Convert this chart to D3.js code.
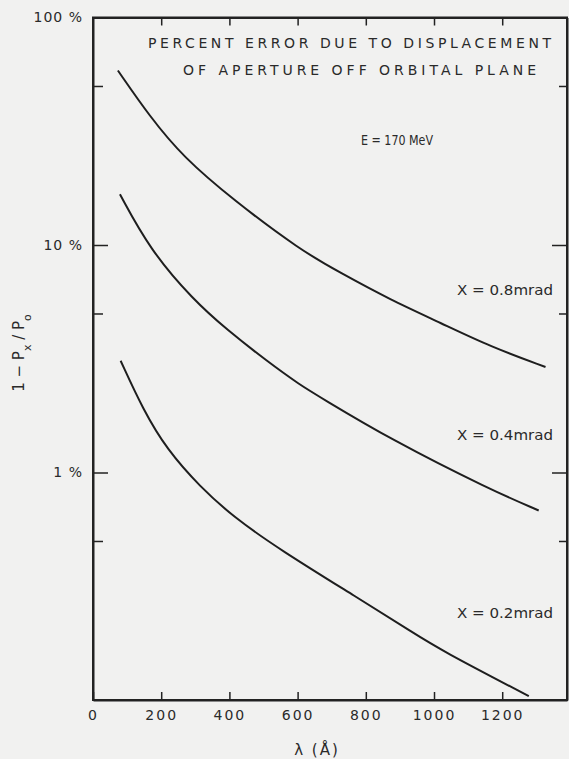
<!DOCTYPE html>
<meta charset="utf-8">
<script src="https://d3js.org/d3.v7.min.js"></script>
<style>
  body { margin: 0; background: #f1f1f0; }
  svg text { font-family: "DejaVu Sans", sans-serif; fill: #2a2a2a; }
</style>
<div id="chart"></div>
<script>
// wavelength (Angstrom) and percent error
var lam08 = [73, 167, 264, 411, 608, 725, 872, 1019, 1166, 1327];
var err08 = [58.5, 36.6, 24.4, 15.8, 9.5, 7.55, 5.74, 4.55, 3.57, 2.91];

var lam04 = [79, 167, 294, 393, 511, 608, 667, 872, 1166, 1307];
var err04 = [16.7, 9.53, 5.74, 4.24, 3.08, 2.42, 2.14, 1.40, 0.839, 0.681];

var lam02 = [81, 147, 217, 314, 411, 549, 775, 940, 1019, 1278];
var err02 = [3.10, 1.887, 1.26, 0.865, 0.639, 0.457, 0.282, 0.197, 0.166, 0.104];

var curveNames = ["X = 0.8mrad", "X = 0.4mrad", "X = 0.2mrad"];
var xTicks = [0, 200, 400, 600, 800, 1000, 1200];
var yMajor = [100, 10, 1];
var yMinor = [50, 5, 0.5];

var width = 569, height = 759;

var svg = d3.select("#chart")
  .append("svg")
    .attr("width", width)
    .attr("height", height);

var x = d3.scaleLinear()
  .domain([0, 1390])
  .range([93, 567]);

var y = d3.scaleLog()
  .domain([0.1, 100])
  .range([700, 17.5]);

// frame
svg.append("rect")
  .attr("x", x(0))
  .attr("y", y(100))
  .attr("width", x(1390) - x(0))
  .attr("height", y(0.1) - y(100))
  .attr("fill", "none")
  .attr("stroke", "#222")
  .attr("stroke-width", 2);

// bottom axis, ticks pointing up
var xb = svg.append("g")
  .attr("transform", "translate(0," + y(0.1) + ")")
  .call(d3.axisBottom(x).tickValues(xTicks).tickSizeInner(-8).tickSizeOuter(0).tickPadding(10)
    .tickFormat(d3.format("d")));
xb.selectAll("text")
  .style("font-size", "14px")
  .style("letter-spacing", "2px")
  .attr("fill", "#2a2a2a");

// top axis ticks pointing down
svg.append("g")
  .attr("transform", "translate(0," + y(100) + ")")
  .call(d3.axisTop(x).tickValues(xTicks.slice(1)).tickSizeInner(-8).tickSizeOuter(0).tickFormat(""));

// left axis
var yl = svg.append("g")
  .attr("transform", "translate(" + x(0) + ",0)")
  .call(d3.axisLeft(y).tickValues(yMajor.concat(yMinor)).tickSizeInner(-15).tickSizeOuter(0).tickPadding(10)
    .tickFormat(function(d) { return yMajor.indexOf(d) >= 0 ? d + " %" : ""; }));
yl.selectAll(".tick line")
  .attr("x2", function(d) { return yMajor.indexOf(d) >= 0 ? 15 : 10; });
yl.selectAll("text")
  .style("font-size", "14px")
  .style("letter-spacing", "1px")
  .attr("fill", "#2a2a2a");

// right axis
var yr = svg.append("g")
  .attr("transform", "translate(" + x(1390) + ",0)")
  .call(d3.axisRight(y).tickValues(yMajor.slice(1).concat(yMinor)).tickSizeOuter(0).tickFormat(""));
yr.selectAll(".tick line")
  .attr("x2", function(d) { return yMajor.indexOf(d) >= 0 ? -15 : -8; });

svg.selectAll(".domain").attr("stroke", "#222").attr("stroke-width", 2);
svg.selectAll(".tick line").attr("stroke", "#222").attr("stroke-width", 1.5);

// curves
var line = d3.line()
  .x(function(d) { return x(d[0]); })
  .y(function(d) { return y(d[1]); })
  .curve(d3.curveBasis);

var series = [
  d3.zip(lam08, err08),
  d3.zip(lam04, err04),
  d3.zip(lam02, err02)
];

svg.selectAll(".curve")
  .data(series)
  .enter()
  .append("path")
    .attr("class", "curve")
    .attr("fill", "none")
    .attr("stroke", "#1e1e1e")
    .attr("stroke-width", 2)
    .attr("d", line);

// curve labels
var labelY = [290, 435, 613];
svg.selectAll(".clabel")
  .data(curveNames)
  .enter()
  .append("text")
    .attr("class", "clabel")
    .attr("x", 457)
    .attr("y", function(d, i) { return labelY[i]; })
    .attr("dy", "0.35em")
    .attr("textLength", 96)
    .attr("lengthAdjust", "spacingAndGlyphs")
    .style("font-size", "14px")
    .text(function(d) { return d; });

// title block
svg.append("text")
  .attr("x", 148).attr("y", 43).attr("dy", "0.35em")
  .attr("textLength", 403).attr("lengthAdjust", "spacing")
  .style("font-size", "14px")
  .text("PERCENT ERROR DUE TO DISPLACEMENT");

svg.append("text")
  .attr("x", 183).attr("y", 70).attr("dy", "0.35em")
  .attr("textLength", 353).attr("lengthAdjust", "spacing")
  .style("font-size", "14px")
  .text("OF APERTURE OFF ORBITAL PLANE");

svg.append("text")
  .attr("x", 361).attr("y", 140).attr("dy", "0.35em")
  .attr("textLength", 72).attr("lengthAdjust", "spacingAndGlyphs")
  .style("font-size", "14px")
  .text("E = 170 MeV");

// axis titles
svg.append("text")
  .attr("x", 317).attr("y", 750).attr("dy", "0.35em")
  .attr("text-anchor", "middle")
  .style("font-size", "15px")
  .style("letter-spacing", "2px")
  .text("λ (Å)");

var yt = svg.append("text")
  .attr("transform", "translate(24,353) rotate(-90)")
  .attr("text-anchor", "middle")
  .style("font-size", "15px");
yt.append("tspan").text("1 − P");
yt.append("tspan").attr("baseline-shift", "sub").style("font-size", "11px").text("x");
yt.append("tspan").text(" / P");
yt.append("tspan").attr("baseline-shift", "sub").style("font-size", "11px").text("o");
</script>
